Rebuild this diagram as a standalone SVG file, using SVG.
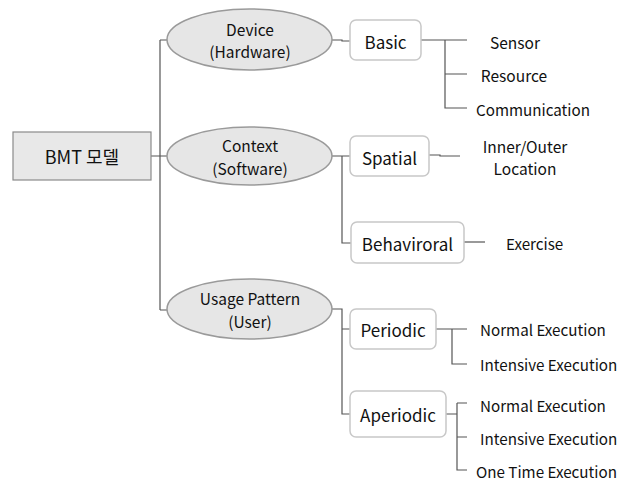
<svg xmlns="http://www.w3.org/2000/svg" width="632" height="482" viewBox="0 0 632 482">
<style>
text{font-family:"Noto Sans CJK KR","Noto Sans",sans-serif;fill:#111;text-anchor:middle;dominant-baseline:central}
.ell{fill:#e6e6e6;stroke:#9a9a9a;stroke-width:1.5}
.box{fill:#fff;stroke:#c8c8c8;stroke-width:1.5}
.root{fill:#e8e8e8;stroke:#8a8a8a;stroke-width:1.2}
.en{font-size:15.5px}
.bx{font-size:17px}
.rt{font-size:18px}
.lf{font-size:15.2px;text-anchor:start}
#conn path{fill:none;stroke:#555;stroke-width:1.2}
</style>
<rect width="632" height="482" fill="#fff"/>
<g id="conn">
<path d="M151 156H167M160 40V310M160 40H167M160 310H167"/>
<path d="M332 40H342V41H350"/>
<path d="M421 40H467M445 40V108H467M445 74H467"/>
<path d="M332 156H350M342 156V243H351"/>
<path d="M429 155H440V156H460"/>
<path d="M464 242H485"/>
<path d="M332 309H342V414H350M342 329H350"/>
<path d="M436 329H467M452 329V364H467"/>
<path d="M446 414H457M457 403V470H467M457 403H467M457 437H467"/>
</g>
<g id="root"><rect class="root" x="13" y="132" width="138" height="48"/><text x="82" y="156" class="rt">BMT 모델</text></g>
<g id="device"><ellipse class="ell" cx="249.5" cy="39.5" rx="82.5" ry="30.5"/><text x="250" y="29" class="en">Device</text><text x="250" y="51" class="en">(Hardware)</text></g>
<g id="context"><ellipse class="ell" cx="249.5" cy="156" rx="82.5" ry="29"/><text x="250" y="145" class="en">Context</text><text x="250" y="168" class="en">(Software)</text></g>
<g id="usage"><ellipse class="ell" cx="249.5" cy="309" rx="82.5" ry="30"/><text x="250" y="298" class="en">Usage Pattern</text><text x="250" y="321" class="en">(User)</text></g>
<g id="basic"><rect class="box" x="350" y="20" width="71" height="40" rx="6"/><text x="385.5" y="41" class="bx">Basic</text></g>
<g id="spatial"><rect class="box" x="350" y="136" width="79" height="40" rx="6"/><text x="389.5" y="157" class="bx">Spatial</text></g>
<g id="behaviroral"><rect class="box" x="351" y="222" width="113" height="41" rx="6"/><text x="407.5" y="243" class="bx">Behaviroral</text></g>
<g id="periodic"><rect class="box" x="350" y="309" width="86" height="40" rx="6"/><text x="393" y="329" class="bx">Periodic</text></g>
<g id="aperiodic"><rect class="box" x="350" y="391" width="96" height="46" rx="6"/><text x="398" y="414" class="bx">Aperiodic</text></g>
<g id="sensor"><text x="515" y="42" class="en">Sensor</text></g>
<g id="resource"><text x="514" y="75" class="en">Resource</text></g>
<g id="communication"><text x="476" y="109" class="lf">Communication</text></g>
<g id="location"><text x="525" y="146" class="en">Inner/Outer</text><text x="525" y="168" class="en">Location</text></g>
<g id="exercise"><text x="506" y="243" class="lf">Exercise</text></g>
<g id="p-normal"><text x="480" y="329" class="lf">Normal Execution</text></g>
<g id="p-intensive"><text x="480" y="364" class="lf">Intensive Execution</text></g>
<g id="a-normal"><text x="480" y="405" class="lf">Normal Execution</text></g>
<g id="a-intensive"><text x="480" y="438" class="lf">Intensive Execution</text></g>
<g id="a-onetime"><text x="476" y="471" class="lf">One Time Execution</text></g>
</svg>
